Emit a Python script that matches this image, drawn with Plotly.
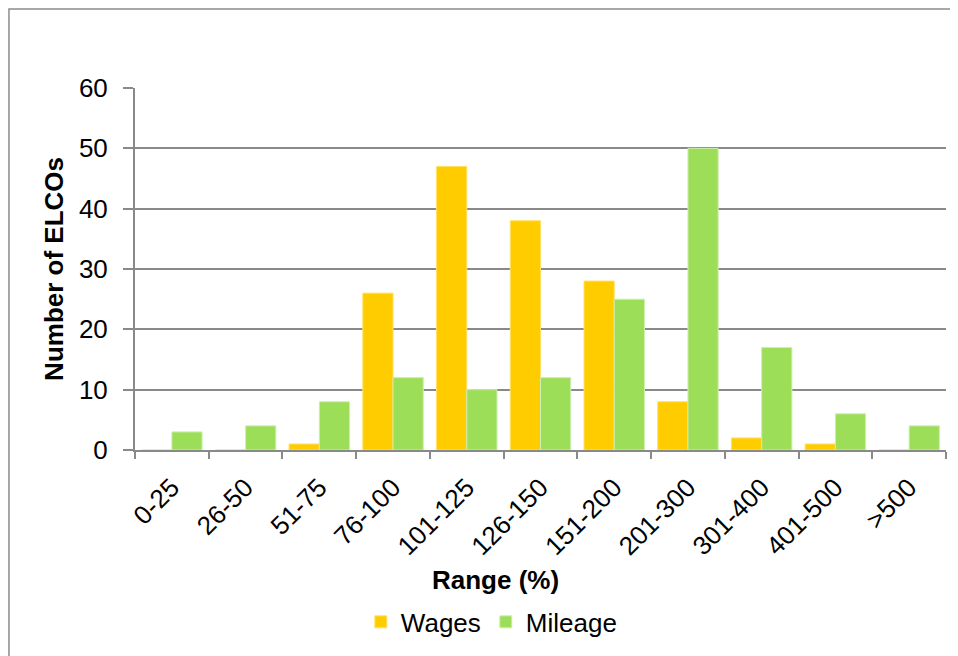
import plotly.graph_objects as go

categories = ["0-25", "26-50", "51-75", "76-100", "101-125", "126-150",
              "151-200", "201-300", "301-400", "401-500", ">500"]
wages = [0, 0, 1, 26, 47, 38, 28, 8, 2, 1, 0]
mileage = [3, 4, 8, 12, 10, 12, 25, 50, 17, 6, 4]
y_ticks = [0, 10, 20, 30, 40, 50, 60]

FONT = "Liberation Sans, Arial, sans-serif"
GRID = "#898989"
FS = 26

fig = go.Figure()
fig.add_trace(go.Bar(name="Wages", x=categories, y=wages,
                     marker=dict(color="#FFCC00", line=dict(color="#FFE066", width=1))))
fig.add_trace(go.Bar(name="Mileage", x=categories, y=mileage,
                     marker=dict(color="#9DDE58", line=dict(color="#CDEFB0", width=1))))

fig.update_layout(
    width=950, height=648,
    margin=dict(l=127, r=12, t=80, b=206, autoexpand=False),
    paper_bgcolor="white", plot_bgcolor="white",
    barmode="group", bargap=0.18, bargroupgap=0,
    font=dict(family=FONT, size=FS, color="black"),
    showlegend=True,
    legend=dict(orientation="h", x=0.44, xanchor="center", y=-0.475, yanchor="middle",
                font=dict(size=FS), traceorder="normal"),
    xaxis=dict(
        type="category", tickangle=-45, ticks="outside", tickson="boundaries",
        ticklen=7, tickcolor=GRID, tickwidth=2,
        showline=True, linecolor=GRID, linewidth=2,
        showgrid=False, automargin=False, ticklabelstandoff=10,
        tickfont=dict(size=FS),
    ),
    yaxis=dict(
        range=[0, 60], tickvals=y_ticks, ticks="outside", ticklen=10,
        tickcolor=GRID, tickwidth=2,
        showline=True, linecolor=GRID, linewidth=2,
        showgrid=True, gridcolor=GRID, gridwidth=2,
        zeroline=False, automargin=False, ticklabelstandoff=10,
        tickfont=dict(size=FS),
    ),
)

# axis titles
fig.add_annotation(text="<b>Range (%)</b>", xref="paper", yref="paper",
                   x=0.445, y=-0.36, xanchor="center", yanchor="middle",
                   showarrow=False, font=dict(size=FS))
fig.add_annotation(text="<b>Number of ELCOs</b>", xref="paper", yref="paper",
                   x=-0.1, y=0.5, xanchor="center", yanchor="middle",
                   textangle=-90, showarrow=False, font=dict(size=FS))

# outer chart border
fig.add_shape(type="rect", xref="paper", yref="paper",
              x0=-0.1554, x1=1.1, y0=-0.7, y1=1.218,
              line=dict(color="#8C8C8C", width=1.5), layer="below")

fig.write_html("out.html")
